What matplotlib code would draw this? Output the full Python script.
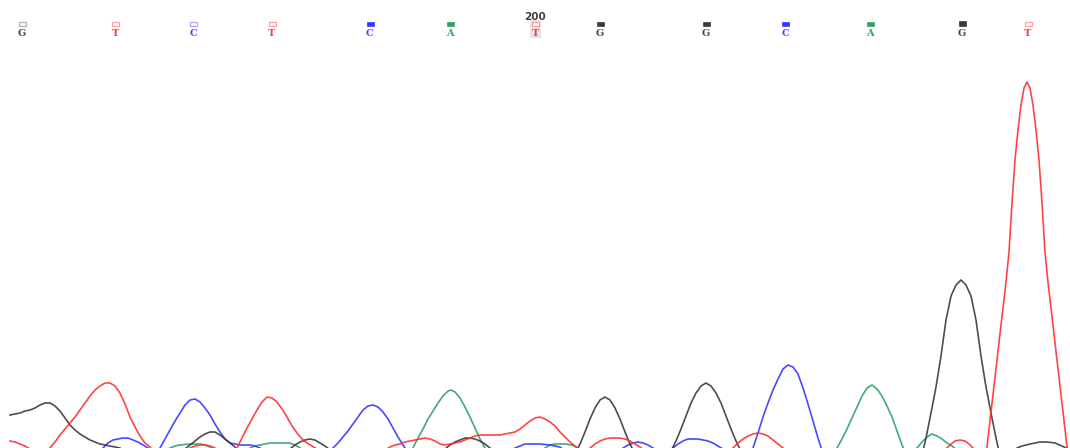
import matplotlib
matplotlib.use("Agg")
import matplotlib.pyplot as plt
from matplotlib.patches import Rectangle

# called bases along the top (scan position, base, quality)
base_pos = [22, 115, 193, 272, 370, 450, 535, 600, 706, 785, 870, 962, 1028]
bases = ["G", "T", "C", "T", "C", "A", "T", "G", "G", "C", "A", "G", "T"]
quality = [6, 8, 7, 9, 24, 25, 8, 30, 31, 28, 27, 42, 9]
base_number = 200
numbered_index = 6

# trace signal per dye channel (height above bottom edge),
# one (x list, y list) pair per visible stretch of the trace
g_traces = [
    ([10, 15, 20, 25, 30, 35, 40, 45, 50, 55, 60, 65, 70, 75, 80, 85, 90, 95, 100, 105, 110, 115, 120, 125, 130],
     [33, 34, 35, 37, 38, 40, 43, 45, 45, 42, 37, 30, 23, 18, 14, 11, 8, 6, 4, 3, 2, 1, 0, -3, -8]),
    ([180, 185, 190, 195, 200, 205, 210, 215, 220, 225, 230, 235, 240, 245],
     [-8, -1, 3, 7, 11, 14, 16, 16, 13, 9, 5, 1, -4, -10]),
    ([285, 290, 295, 300, 305, 310, 315, 320, 325, 330, 335],
     [-6, -1, 3, 6, 8, 9, 8, 5, 2, -2, -7]),
    ([440, 445, 450, 455, 460, 465, 470, 475, 480, 485, 490, 495],
     [-5, -1, 3, 6, 8, 10, 10, 9, 7, 4, 0, -5]),
    ([570, 575, 580, 585, 590, 595, 600, 605, 610, 615, 620, 625, 630, 635, 640],
     [-13, -6, 4, 16, 29, 40, 48, 51, 48, 40, 29, 16, 4, -6, -13]),
    ([666, 671, 676, 681, 686, 691, 696, 701, 706, 711, 716, 721, 726, 731, 736, 741, 746],
     [-10, -3, 7, 19, 32, 45, 55, 62, 65, 62, 55, 45, 32, 19, 7, -3, -10]),
    ([921, 926, 931, 936, 941, 946, 951, 956, 961, 966, 971, 976, 981, 986, 991, 996, 1001],
     [-12, 10, 35, 61, 92, 128, 152, 163, 168, 163, 152, 128, 92, 61, 35, 10, -12]),
    ([1012, 1017, 1022, 1030, 1040, 1047, 1055, 1062, 1068, 1070],
     [-5, 0, 2, 4, 6, 6, 5, 2, -1, -2]),
]

t_traces = [
    ([10, 15, 20, 25, 30, 35],
     [7, 6, 4, 2, -1, -5]),
    ([45, 50, 55, 60, 65, 70, 75, 80, 85, 90, 95, 100, 105, 110, 115, 120, 125, 130, 135, 140, 145, 150, 155],
     [-7, 0, 6, 13, 19, 25, 31, 38, 45, 52, 58, 62, 65, 65, 62, 55, 44, 31, 21, 12, 5, 1, -5]),
    ([185, 190, 195, 200, 205, 210, 215, 220],
     [-4, 0, 2, 3, 3, 2, 0, -4]),
    ([232, 237, 242, 247, 252, 257, 262, 267, 272, 277, 282, 287, 292, 297, 302, 307, 312, 317, 322],
     [-8, 0, 10, 20, 29, 38, 46, 51, 50, 46, 39, 31, 22, 15, 9, 5, 2, -1, -4]),
    ([380, 385, 390, 395, 400, 405, 410, 415, 420, 425, 430, 435, 440, 445, 450, 455, 460, 465, 470, 475, 480,
      490, 500, 505, 510, 515, 520, 525, 530, 535, 540, 545, 550, 555, 560, 565, 570, 575, 580, 585],
     [-6, -2, 1, 3, 4, 6, 7, 8, 9, 10, 9, 7, 4, 3, 4, 5, 6, 8, 10, 12, 13,
      13, 13, 14, 15, 16, 19, 23, 27, 30, 31, 29, 26, 22, 16, 11, 6, 2, -2, -6]),
    ([586, 590, 595, 600, 605, 610, 615, 620, 625, 630, 635, 640, 645],
     [-4, 0, 4, 7, 9, 10, 10, 10, 9, 7, 4, 1, -3]),
    ([728, 733, 738, 743, 748, 753, 758, 763, 768, 773, 778, 783, 788],
     [-4, 0, 5, 9, 12, 14, 15, 14, 12, 8, 4, 0, -4]),
    ([942, 947, 951, 955, 960, 965, 969, 973, 978],
     [-4, 0, 4, 7, 8, 7, 4, 0, -4]),
    ([985, 988, 991, 994, 997, 1000, 1003, 1006, 1009, 1012, 1015, 1018, 1021, 1024, 1027,
      1030, 1033, 1036, 1039, 1042, 1045, 1048, 1051, 1054, 1057, 1060, 1063, 1066, 1069],
     [-16, 10, 36, 62, 88, 114, 140, 166, 196, 245, 288, 318, 343, 360, 366,
      360, 343, 318, 288, 245, 196, 166, 140, 114, 88, 62, 36, 10, -16]),
]

c_traces = [
    ([98, 103, 108, 113, 118, 123, 128, 133, 138, 143, 148, 153],
     [-4, 0, 5, 8, 9, 10, 10, 8, 6, 3, 0, -4]),
    ([155, 160, 165, 170, 175, 180, 185, 190, 195, 200, 205, 210, 215, 220, 225, 230, 235, 240, 245, 250, 255, 260, 265],
     [-8, 0, 9, 18, 27, 35, 43, 48, 49, 46, 40, 33, 24, 16, 9, 5, 4, 3, 3, 3, 2, 0, -4]),
    ([328, 333, 338, 343, 348, 353, 358, 363, 368, 373, 378, 383, 388, 393, 398, 403, 408],
     [-7, 0, 5, 11, 17, 24, 31, 38, 42, 43, 41, 36, 29, 20, 11, 3, -5]),
    ([510, 515, 520, 525, 530, 540, 550, 555, 560, 565],
     [-4, 0, 2, 4, 4, 4, 3, 2, 1, -3]),
    ([618, 623, 628, 633, 638, 643, 648, 653, 658],
     [-4, 0, 3, 5, 6, 5, 3, 0, -4]),
    ([668, 673, 678, 683, 688, 693, 698, 703, 708, 713, 718, 723, 728],
     [-4, 0, 4, 7, 9, 9, 9, 8, 7, 5, 2, -1, -5]),
    ([748, 753, 758, 763, 768, 773, 778, 783, 788, 793, 798, 803, 808, 813, 818, 823, 828],
     [-15, 0, 15, 31, 45, 58, 69, 79, 83, 81, 74, 60, 44, 27, 10, -6, -20]),
]

a_traces = [
    ([165, 170, 175, 180, 190, 200, 205, 210, 215],
     [-4, 0, 2, 3, 4, 4, 3, 1, -3]),
    ([245, 250, 255, 260, 265, 270, 280, 290, 295, 300, 305],
     [-4, 0, 2, 3, 4, 5, 5, 5, 3, 0, -4]),
    ([408, 413, 418, 423, 428, 433, 438, 443, 448, 451, 455, 460, 465, 470, 475, 480, 485, 490],
     [-8, 0, 10, 19, 29, 37, 45, 52, 57, 58, 56, 50, 41, 31, 20, 9, 0, -8]),
    ([540, 545, 550, 555, 565, 572, 578, 583],
     [-4, 0, 3, 4, 4, 3, 0, -4]),
    ([832, 837, 842, 847, 852, 857, 862, 867, 872, 877, 882, 887, 892, 897, 902, 907],
     [-8, 0, 9, 19, 30, 41, 52, 60, 63, 59, 52, 42, 31, 17, 3, -8]),
    ([912, 917, 922, 927, 932, 937, 942, 947, 952, 957],
     [-5, 0, 6, 11, 14, 12, 9, 5, 2, -2]),
]

line_col = {"G": "#3a3a3a", "T": "#ff3030", "C": "#3535ff", "A": "#30a065"}
text_col = {"G": "#4a4a4a", "T": "#ff3a3a", "C": "#4a4aff", "A": "#33a066"}
light_col = {"G": "#b0b0b0", "T": "#ffa0a0", "C": "#a8a8ff", "A": "#90d0ae"}

fig = plt.figure(figsize=(10.7, 4.48), dpi=100)
ax = fig.add_axes([0, 0, 1, 1])
ax.set_xlim(0, 1070)
ax.set_ylim(0, 448)
ax.axis("off")

for channel, traces in [("A", a_traces), ("C", c_traces), ("G", g_traces), ("T", t_traces)]:
    for xs, ys in traces:
        ax.plot(xs, ys, color=line_col[channel], lw=1.2, alpha=0.9)

# base calls with quality bars
for i, (x, b, q) in enumerate(zip(base_pos, bases, quality)):
    if i == numbered_index:
        ax.add_patch(Rectangle((x - 5.5, 410), 11, 18, facecolor="#e4e4e4", edgecolor="none", zorder=1))
        ax.text(x, 431.5, str(base_number), ha="center", va="center", fontsize=7.5,
                color="#404040", family="DejaVu Sans", fontweight="semibold")
    h = 5.5 if q >= 40 else 4
    if q >= 20:
        ax.add_patch(Rectangle((x - 3.5, 422), 7, h, facecolor=line_col[b], edgecolor=line_col[b],
                               lw=0.5, zorder=2))
    else:
        ax.add_patch(Rectangle((x - 3.5, 422), 7, h, facecolor="white", edgecolor=light_col[b],
                               lw=0.9, zorder=2))
    ax.text(x, 414.5, b, ha="center", va="center", fontsize=7, color=text_col[b],
            family="DejaVu Serif", fontweight="bold", zorder=3)

fig.savefig("out.png", dpi=100)
